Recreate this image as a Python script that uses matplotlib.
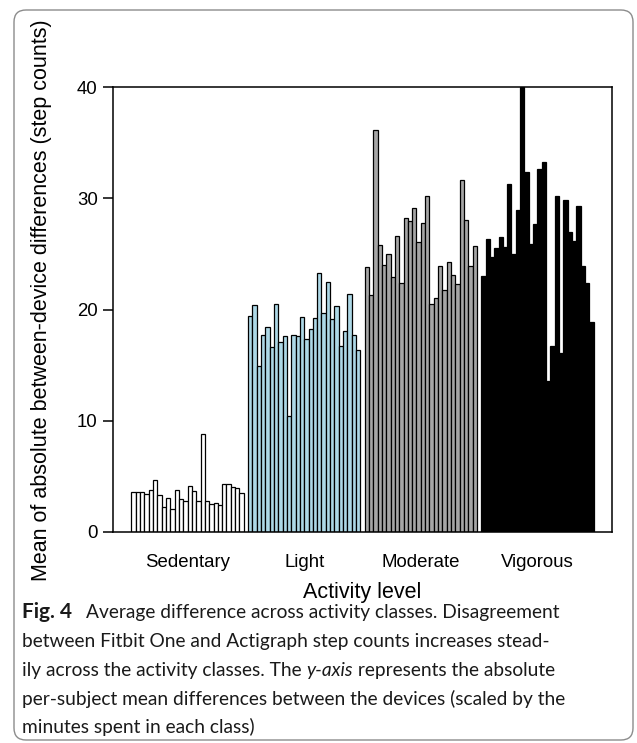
import matplotlib
matplotlib.use("Agg")
import matplotlib.pyplot as plt
from matplotlib.patches import FancyBboxPatch

W, H = 637, 743

groups = ["Sedentary", "Light", "Moderate", "Vigorous"]
sedentary = [3.62, 3.62, 3.62, 3.38, 3.74, 4.67, 3.29, 2.22, 3.06, 2.04, 3.74, 2.94, 2.76,
             4.10, 3.65, 2.76, 8.84, 2.76, 2.55, 2.58, 2.40, 4.35, 4.35, 4.01, 3.92, 3.54]
light = [19.44, 20.37, 14.95, 17.71, 18.40, 16.63, 20.52, 17.08, 17.59, 10.46, 17.71, 17.62, 19.33,
         17.35, 18.28, 19.21, 23.31, 19.69, 22.44, 19.12, 20.28, 16.75, 18.07, 21.36, 17.68, 16.36]
moderate = [23.85, 21.33, 36.10, 25.80, 24.03, 24.99, 22.95, 26.58, 22.35, 28.22, 27.92, 29.09, 26.10,
            27.74, 30.17, 20.46, 21.00, 23.91, 21.72, 24.24, 23.07, 22.26, 31.61, 28.04, 23.88, 25.74]
vigorous = [23.01, 26.34, 24.75, 25.50, 26.49, 25.65, 31.25, 24.96, 28.94, 40.00, 32.33, 25.86, 27.66,
            32.63, 33.29, 13.60, 16.72, 30.20, 16.06, 29.84, 26.97, 26.19, 29.33, 23.91, 22.35, 18.88]
colors = ["white", "#add8e6", "#a6a6a6", "black"]
yticks = [0, 10, 20, 30, 40]

plt.rcParams['font.family'] = ['Liberation Sans', 'DejaVu Sans']

fig = plt.figure(figsize=(W / 100, H / 100), dpi=100)
ax = fig.add_axes([113 / W, 1 - 532 / H, 499 / W, 445 / H])

# R-style beside barplot: one empty bar width before every group
series = [sedentary, light, moderate, vigorous]
n = len(sedentary)
centers = []
for g, (vals, col) in enumerate(zip(series, colors)):
    start = g * (n + 1) + 1
    xs = [start + i + 0.5 for i in range(len(vals))]
    ax.bar(xs, vals, width=1.0, color=col, edgecolor='black', linewidth=0.9)
    centers.append(start + n / 2)
right = len(series) * (n + 1)
span = right - 1
ax.set_xlim(1 - 0.04 * span, right + 0.04 * span)
ax.set_ylim(0, 40)

ax.set_yticks(yticks)
ax.set_xticks(centers, groups)
ax.tick_params(axis='y', length=7, width=1.1, pad=4, labelsize=13.4)
ax.tick_params(axis='x', length=0, pad=16, labelsize=13.4)
for s in ax.spines.values():
    s.set_linewidth(1.1)
ax.set_xlabel("Activity level", fontsize=15.5, labelpad=8)
fig.text(42 / W, 1 - 300 / H, "Mean of absolute between-device differences (step counts)",
         rotation=90, ha='center', va='center', fontsize=15.5)

# caption
cap_font = ['Lato', 'DejaVu Sans']
cap_fs = 13.8
renderer = fig.canvas.get_renderer()


def draw_runs(y, runs, x0=22):
    x = x0
    for s, kw in runs:
        t = fig.text(x / W, 1 - y / H, s, ha='left', va='baseline', fontsize=cap_fs,
                     family=cap_font, color='#1a1a1a', **kw)
        x += t.get_window_extent(renderer).width


fig.text(22 / W, 1 - 618 / H, "Fig. 4", ha='left', va='baseline', fontsize=15,
         family=cap_font, weight='bold', color='#1a1a1a')
draw_runs(618, [("Average difference across activity classes. Disagreement", {})], x0=86)
draw_runs(647, [("between Fitbit One and Actigraph step counts increases stead-", {})])
draw_runs(676, [("ily across the activity classes. The ", {}), ("y-axis", dict(style='italic')),
                (" represents the absolute", {})])
draw_runs(705, [("per-subject mean differences between the devices (scaled by the", {})])
draw_runs(733, [("minutes spent in each class)", {})])

box = FancyBboxPatch((0.14, 0.03), 6.19, 7.3, boxstyle="round,pad=0,rounding_size=0.12",
                     transform=fig.dpi_scale_trans, fill=False, edgecolor='#8c8c8c', linewidth=1.0)
fig.patches.append(box)

fig.savefig("out.png", dpi=100)
